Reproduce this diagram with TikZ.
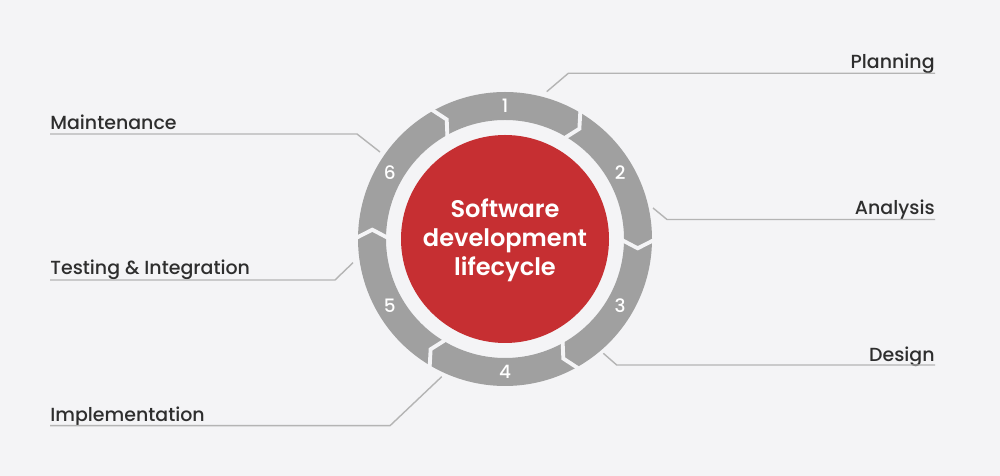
\documentclass[tikz,border=0pt]{standalone}
\usepackage{fontspec}
\setmainfont{Poppins}
\newfontfamily\medfont{Poppins Medium}
\newfontfamily\semifont{Poppins SemiBold}
\definecolor{bg}{HTML}{F4F4F6}
\definecolor{ringgray}{HTML}{A0A0A0}
\definecolor{sdlcred}{HTML}{C62F32}
\definecolor{txt}{HTML}{2E2E2E}
\definecolor{leader}{HTML}{B4B4B4}
\tikzset{
  seg/.style={fill=ringgray},
  sep/.style={draw=bg, line width=2.2pt, line join=miter},
  num/.style={text=white, font=\medfont\fontsize{10.5}{11}\selectfont, inner sep=0pt},
  lab/.style={text=txt, font=\medfont\fontsize{10.8}{12}\selectfont, inner sep=0pt},
  leaderline/.style={draw=leader, line width=0.8pt},
  title/.style={text=white, align=center, font=\semifont\fontsize{13.7}{16.4}\selectfont, inner sep=0pt}
}
\begin{document}
\begin{tikzpicture}[x=0.02cm,y=0.02cm]
\fill[bg] (0,0) rectangle (1000,476);
\useasboundingbox (0,0) rectangle (1000,476);
\begin{scope}[shift={(505,237)}]
  \foreach \s in {120,60,0,-60,-120,-180}{
    \pgfmathsetmacro{\e}{\s-60}
    \pgfmathsetmacro{\et}{\s-64}
    \pgfmathsetmacro{\st}{\s-4}
    \fill[seg] (\s:147) arc[start angle=\s, end angle=\e, radius=147]
      -- (\et:133) -- (\e:119) arc[start angle=\e, end angle=\s, radius=119]
      -- (\st:133) -- cycle;
  }
  \foreach \s in {120,60,0,-60,-120,-180}{
    \pgfmathsetmacro{\st}{\s-4}
    \draw[sep] (\s:115) -- (\st:133) -- (\s:151);
  }
  \fill[sdlcred] (0,0) circle[radius=104];
  \node[title] (core) at (0,-1) {Software\\development\\lifecycle};
  \node[num] (n1) at (90:133) {1};
  \node[num] (n2) at (30:133) {2};
  \node[num] (n3) at (-30:133) {3};
  \node[num] (n4) at (-90:133) {4};
  \node[num] (n5) at (-150:133) {5};
  \node[num] (n6) at (150:133) {6};
\end{scope}
% labels
\node[lab, anchor=base east] (planning) at (935,407) {Planning};
\node[lab, anchor=base east] (analysis) at (935,261) {Analysis};
\node[lab, anchor=base east] (design) at (935,114.3) {Design};
\node[lab, anchor=base west] (maint) at (50,346.7) {Maintenance};
\node[lab, anchor=base west] (testing) at (50,201) {Testing \& Integration};
\node[lab, anchor=base west] (impl) at (50,54.3) {Implementation};
% leader coordinates
\coordinate (pe) at (546.7,384.3);
\coordinate (pk) at (568.3,402.7);
\coordinate (pl) at (935,402.7);
\coordinate (ae) at (653,268);
\coordinate (ak) at (667,256.5);
\coordinate (al) at (935,256.5);
\coordinate (de) at (603.3,122.7);
\coordinate (dk) at (616.7,111);
\coordinate (dl) at (935,111);
\coordinate (me) at (380,324);
\coordinate (mk) at (357,342);
\coordinate (ml) at (50,342);
\coordinate (te) at (353,213.3);
\coordinate (tk) at (335,196);
\coordinate (tl) at (50,196);
\coordinate (ie) at (441.7,99.3);
\coordinate (ik) at (390,50.3);
\coordinate (il) at (50,50.3);
\draw[leaderline] (pe) -- (pk) -- (pl);
\draw[leaderline] (ae) -- (ak) -- (al);
\draw[leaderline] (de) -- (dk) -- (dl);
\draw[leaderline] (me) -- (mk) -- (ml);
\draw[leaderline] (te) -- (tk) -- (tl);
\draw[leaderline] (ie) -- (ik) -- (il);
\end{tikzpicture}
\end{document}
